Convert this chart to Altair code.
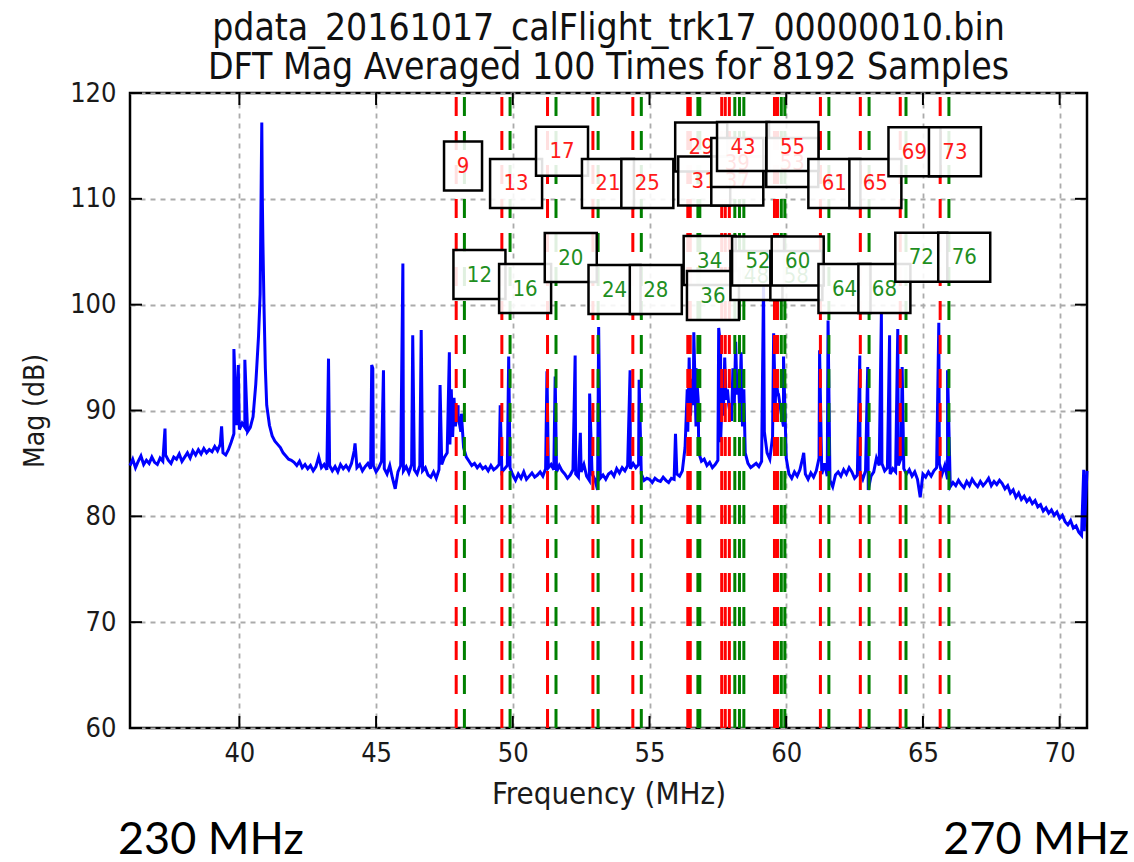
import altair as alt
import numpy as np
import pandas as pd

FONT = "DejaVu Sans Condensed, DejaVu Sans"
TITLE = ["pdata_20161017_calFlight_trk17_00000010.bin",
         "DFT Mag Averaged 100 Times for 8192 Samples"]

# Spectrum background level (dB), read every 0.1 MHz from 36.0 to 71.0 MHz
base_db = [
    84.8, 85.4, 84.6, 85.2, 85.7, 84.9, 85.3, 85.0, 85.6, 85.1,   # 36
    84.9, 85.5, 85.2, 85.8, 85.3, 85.0, 85.6, 85.4, 85.9, 85.2,   # 37
    85.6, 86.0, 85.5, 86.2, 85.8, 86.3, 85.9, 86.4, 86.0, 86.3,   # 38
    86.1, 86.6, 86.2, 86.8, 86.0, 85.8, 86.3, 87.0, 87.8, 88.6,   # 39
    88.2, 88.8, 88.4, 88.0, 88.4, 89.4, 92.5, 97.0, 112.0, 100.0, # 40
    90.5, 88.6, 87.6, 87.1, 86.8, 86.5, 86.0, 85.7, 85.4, 85.3,   # 41
    85.1, 84.8, 85.2, 84.6, 84.9, 84.5, 84.8, 84.3, 84.7, 85.6,   # 42
    84.6, 84.9, 84.4, 84.8, 84.3, 84.7, 84.2, 84.9, 84.5, 84.8,   # 43
    84.4, 85.0, 86.2, 84.6, 84.9, 84.3, 84.7, 85.0, 84.5, 84.8,   # 44
    84.2, 84.6, 85.2, 84.5, 84.0, 84.8, 83.6, 82.6, 84.2, 84.8,   # 45
    84.3, 84.7, 84.1, 84.9, 84.4, 84.0, 84.8, 84.3, 84.6, 83.9,   # 46
    83.7, 84.2, 83.6, 84.4, 84.9, 85.6, 86.0, 86.8, 87.5, 88.5,   # 47
    89.5, 88.0, 86.5, 85.6, 85.2, 84.8, 85.0, 84.6, 84.9, 84.5,   # 48
    84.7, 84.3, 84.8, 84.4, 84.6, 84.9, 84.2, 84.5, 84.8, 84.6,   # 49
    83.9, 83.4, 84.0, 83.6, 84.2, 83.5, 83.8, 84.1, 83.7, 83.9,   # 50
    84.2, 83.8, 84.5, 84.6, 84.9, 84.4, 84.2, 84.8, 84.3, 84.0,   # 51
    83.6, 83.9, 84.4, 84.0, 83.7, 84.2, 84.9, 83.8, 83.4, 84.0,   # 52
    83.5, 82.5, 83.6, 83.9, 83.5, 84.0, 84.2, 83.8, 84.5, 84.1,   # 53
    84.6, 84.3, 84.8, 84.5, 85.0, 84.6, 84.9, 84.0, 83.4, 83.6,   # 54
    83.5, 83.2, 83.6, 83.4, 83.3, 83.7, 83.4, 83.2, 83.6, 83.5,   # 55
    84.0, 83.8, 84.3, 86.5, 88.0, 89.5, 90.5, 88.5, 86.0, 85.2,   # 56
    85.4, 84.8, 85.1, 84.6, 84.9, 85.3, 87.0, 89.5, 91.0, 90.5,   # 57
    89.0, 90.5, 91.5, 90.0, 88.5, 86.0, 85.0, 84.6, 84.8, 85.0,   # 58
    84.7, 85.2, 88.0, 86.0, 85.4, 87.5, 90.5, 91.5, 90.0, 88.5,   # 59
    85.5, 84.0, 83.6, 84.2, 83.8, 84.4, 85.5, 84.0, 83.5, 84.1,   # 60
    83.7, 84.3, 85.5, 84.0, 85.0, 83.8, 83.4, 82.8, 83.9, 84.2,   # 61
    83.8, 84.4, 84.0, 84.6, 84.2, 83.6, 83.9, 84.1, 83.5, 84.3,   # 62
    82.5, 83.8, 84.2, 85.5, 84.8, 85.0, 84.3, 84.6, 84.0, 84.5,   # 63
    84.2, 84.8, 85.5, 84.5, 84.0, 84.4, 83.8, 84.2, 83.5, 81.8,   # 64
    84.0, 83.7, 84.2, 83.8, 84.3, 84.6, 85.0, 84.0, 84.8, 83.5,   # 65
    82.8, 83.2, 82.9, 83.4, 83.0, 82.7, 83.3, 82.9, 83.5, 83.1,   # 66
    82.8, 83.3, 82.9, 83.2, 83.6, 82.9, 83.3, 83.0, 83.4, 83.1,   # 67
    82.6, 82.9, 82.2, 82.5, 81.8, 82.2, 81.6, 81.9, 81.4, 81.7,   # 68
    81.2, 81.5, 80.9, 81.1, 80.5, 80.8, 80.3, 80.6, 80.1, 80.4,   # 69
    79.8, 80.1, 79.5, 79.2, 79.6, 78.9, 79.1, 78.5, 78.2, 78.6,   # 70
    84.3,                                                         # 71
]

# Narrow spectral lines (MHz, dB peak)
spike_f = [37.28, 39.35, 39.80, 39.96, 40.20, 40.76, 40.82, 40.84, 40.86, 40.95,
           43.26, 44.23, 44.84, 44.88, 45.27, 45.98, 46.34, 46.65, 47.34, 47.68,
           47.75, 47.85, 48.00, 48.12, 49.54, 49.85, 51.25, 51.55, 52.28, 52.47,
           52.81, 53.14, 54.29, 54.62, 55.95, 56.38, 56.45, 56.55, 56.62, 56.70,
           56.78, 57.53, 57.60, 57.68, 57.75, 57.85, 58.05, 58.15, 58.25, 58.35,
           58.45, 59.17, 59.54, 59.62, 59.72, 59.90, 60.64, 61.22, 61.53, 62.69,
           62.98, 63.48, 63.78, 64.08, 64.24, 65.58, 65.90, 70.88]
spike_db = [88.3, 88.5, 95.8, 94.3, 94.8, 101.0, 117.2, 110.0, 106.0, 94.0,
            94.9, 86.9, 94.3, 94.0, 93.8, 103.9, 97.1, 97.6, 92.4, 95.5,
            92.0, 91.2, 90.5, 89.7, 90.5, 95.1, 93.7, 93.2, 95.2, 87.9,
            91.6, 97.9, 93.8, 92.9, 87.8, 92.0, 95.0, 93.0, 97.4, 94.0,
            91.0, 97.8, 96.0, 93.0, 95.0, 92.0, 94.0, 96.5, 93.0, 95.5,
            92.0, 102.3, 97.3, 93.0, 91.5, 95.1, 86.0, 95.7, 98.5, 95.2,
            94.1, 99.2, 97.1, 97.7, 94.1, 98.3, 93.8, 84.4]

# Marker frequencies (MHz)
red_lines = [47.93, 49.60, 51.27, 52.93, 54.39, 56.40, 56.49, 57.64, 57.77, 57.92,
             59.57, 59.68, 61.25, 62.71, 64.17, 65.63]
green_lines = [48.23, 49.90, 51.58, 53.12, 54.70, 56.77, 56.84, 58.12, 58.29, 58.45,
               59.82, 59.95, 61.56, 63.03, 64.38, 65.95]

# Annotation labels: number, colour group, anchor frequency, anchor level
ann_n = [9, 12, 13, 16, 17, 20, 21, 24, 25, 28, 29, 31, 34, 36, 37, 39, 43,
         48, 52, 53, 55, 58, 60, 61, 64, 65, 68, 69, 72, 73, 76]
ann_grp = ["r", "g", "r", "g", "r", "g", "r", "g", "r", "g", "r", "r", "g", "g",
           "r", "r", "r", "g", "g", "r", "r", "g", "g", "r", "g", "r", "g", "r",
           "g", "r", "g"]
ann_f = [48.18, 48.78, 50.12, 50.45, 51.80, 52.12, 53.48, 53.72, 54.92, 55.23,
         56.89, 57.00, 57.20, 57.32, 58.21, 58.21, 58.42, 58.91, 58.97, 60.22,
         60.23, 60.37, 60.42, 61.76, 62.13, 63.26, 63.59, 64.69, 64.94, 66.17,
         66.51]
ann_db = [113.10, 102.84, 111.45, 101.52, 114.49, 104.45, 111.45, 101.43, 111.45,
          101.43, 114.90, 111.68, 104.17, 100.86, 111.68, 113.43, 114.94, 102.75,
          104.12, 113.43, 114.94, 102.75, 104.12, 111.45, 101.52, 111.45, 101.52,
          114.45, 104.48, 114.45, 104.48]

x_ticks = [40, 45, 50, 55, 60, 65, 70]
y_ticks = [60, 70, 80, 90, 100, 110, 120]

freq_grid = np.round(36.0 + 0.1 * np.arange(len(base_db)), 2)
spec = pd.concat([
    pd.DataFrame({"f": freq_grid, "db": base_db}),
    pd.DataFrame({"f": spike_f, "db": spike_db}),
]).sort_values("f").reset_index(drop=True)
spec["i"] = np.arange(len(spec))

XS = alt.Scale(domain=[36, 71], nice=False, zero=False)
YS = alt.Scale(domain=[60, 120], nice=False, zero=False)
XA = alt.Axis(
    values=x_ticks, title="Frequency (MHz)", ticks=False, domain=False,
    grid=True, gridDash=[5, 5], gridColor="#ababab", gridWidth=1.8,
    labelFont=FONT, labelFontSize=27, labelColor="#1a1a1a", labelPadding=12,
    titleFont=FONT, titleFontSize=31, titleFontWeight="normal",
    titleColor="#1a1a1a", titlePadding=13)
YA = alt.Axis(
    values=y_ticks, title="Mag (dB)", ticks=False, domain=False,
    grid=True, gridDash=[5, 5], gridColor="#ababab", gridWidth=1.8,
    labelFont=FONT, labelFontSize=27, labelColor="#1a1a1a", labelPadding=14,
    titleFont=FONT, titleFontSize=28, titleFontWeight="normal",
    titleColor="#1a1a1a", titlePadding=20)

W, H = 957, 635

spectrum = alt.Chart(spec).mark_line(color="#0000ff", strokeWidth=3).encode(
    x=alt.X("f:Q", scale=XS, axis=XA),
    y=alt.Y("db:Q", scale=YS, axis=YA),
    order="i:Q",
)

def marker_rules(vals, color):
    return alt.Chart(pd.DataFrame({"f": vals})).mark_rule(
        color=color, strokeWidth=3, strokeDash=[19, 15]).encode(
        x=alt.X("f:Q", scale=XS, axis=XA),
        y=alt.Y(datum=60, scale=YS, axis=YA),
        y2=alt.Y2(datum=120),
    )

red_rules = marker_rules(red_lines, "#ff0000")
green_rules = marker_rules(green_lines, "#008000")

ann = pd.DataFrame({"n": ann_n, "grp": ann_grp, "f": ann_f, "db": ann_db})
ann["lab"] = ann["n"].astype(str)
ann_layers = []
for k, g in zip(ann_n, ann_grp):
    base = alt.Chart(ann).transform_filter(alt.datum.n == k)
    bw = 38 if k < 10 else 52
    ann_layers.append(base.mark_rect(
        width=bw, height=49, fill="white", fillOpacity=0.88,
        stroke="black", strokeWidth=2.5).encode(
        x=alt.X("f:Q", scale=XS, axis=XA),
        y=alt.Y("db:Q", scale=YS, axis=YA)))
    ann_layers.append(base.mark_text(
        font=FONT, fontSize=22, color="#ff1a1a" if g == "r" else "#1f8f1f",
        align="center", baseline="middle").encode(
        x=alt.X("f:Q", scale=XS, axis=XA),
        y=alt.Y("db:Q", scale=YS, axis=YA),
        text="lab:N"))

tick_df = pd.DataFrame({"t": x_ticks})
ytick_df = pd.DataFrame({"t": y_ticks})
tick_style = dict(color="black", strokeWidth=2)
xt_bot = alt.Chart(tick_df).mark_rule(**tick_style).encode(
    x=alt.X("t:Q", scale=XS, axis=XA), y=alt.value(H), y2=alt.value(H - 12))
xt_top = alt.Chart(tick_df).mark_rule(**tick_style).encode(
    x=alt.X("t:Q", scale=XS, axis=XA), y=alt.value(0), y2=alt.value(12))
yt_left = alt.Chart(ytick_df).mark_rule(**tick_style).encode(
    y=alt.Y("t:Q", scale=YS, axis=YA), x=alt.value(0), x2=alt.value(12))
yt_right = alt.Chart(ytick_df).mark_rule(**tick_style).encode(
    y=alt.Y("t:Q", scale=YS, axis=YA), x=alt.value(W), x2=alt.value(W - 12))

band_df = pd.DataFrame({"f": [36, 71], "txt": ["230 MHz", "270 MHz"]})
band_left = alt.Chart(band_df).transform_filter(alt.datum.f == 36).mark_text(
    font="Lato", fontSize=45, color="black", align="left", baseline="alphabetic",
    dx=-12).encode(x=alt.X("f:Q", scale=XS, axis=XA), y=alt.value(761), text="txt:N")
band_right = alt.Chart(band_df).transform_filter(alt.datum.f == 71).mark_text(
    font="Lato", fontSize=45, color="black", align="right", baseline="alphabetic",
    dx=42).encode(x=alt.X("f:Q", scale=XS, axis=XA), y=alt.value(761), text="txt:N")

chart = alt.layer(
    spectrum, red_rules, green_rules, *ann_layers,
    xt_bot, xt_top, yt_left, yt_right, band_left, band_right,
).properties(
    width=W, height=H,
    background="white",
    title=alt.TitleParams(text=TITLE, font=FONT, fontSize=37, fontWeight="normal",
                          color="#111111", anchor="middle", frame="group",
                          offset=-8, lineHeight=39),
    autosize=alt.AutoSizeParams(type="none"),
    padding={"left": 130, "top": 93, "right": 1134 - 130 - W, "bottom": 862 - 93 - H},
).configure_view(stroke="black", strokeWidth=2.5)

chart.save("out.html", embed_options={"renderer": "svg", "actions": False})
